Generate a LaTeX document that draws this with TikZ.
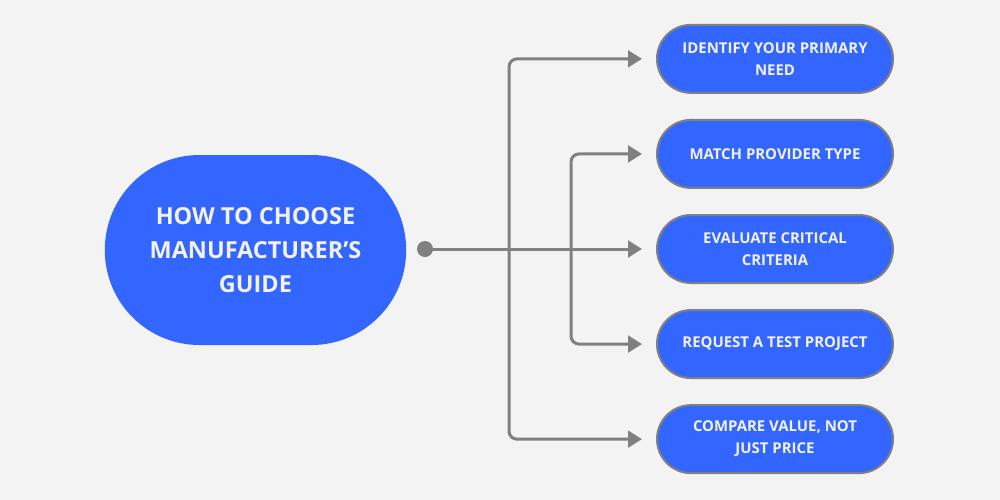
\documentclass[tikz,border=0pt]{standalone}
\usepackage{fontspec}
\setmainfont{Open Sans}
\usetikzlibrary{arrows.meta,positioning}
\definecolor{hubblue}{HTML}{3366FF}
\definecolor{linegray}{HTML}{808080}
\definecolor{bggray}{HTML}{F3F3F3}
\definecolor{txtwhite}{HTML}{F2F2F2}

\begin{document}
\begin{tikzpicture}[
  x=0.75pt, y=-0.75pt,
  node distance=18.8pt,
  box/.style={draw=linegray, line width=1.5pt, fill=hubblue, rounded corners=25.5pt, align=center, font=\fontsize{11.2}{16.5}\selectfont\bfseries, text=txtwhite, minimum width=177pt, minimum height=51pt, inner sep=0pt},
  hub/.style={fill=hubblue, rounded corners=71pt, align=center, font=\fontsize{17.6}{25.5}\selectfont\bfseries, text=txtwhite, minimum width=226pt, minimum height=142.5pt},
  arr/.style={-{Triangle[length=10.5pt, width=12.5pt]}, line width=2.25pt, draw=linegray, shorten >=10.5pt, rounded corners=6pt}
]
\fill[bggray] (0,0) rectangle (1000,500);
\node[hub] (guide) at (255.5,250) {HOW TO CHOOSE\\MANUFACTURER’S\\GUIDE};
\node[box] (n3) at (775,249) {EVALUATE CRITICAL\\CRITERIA};
\node[box, above=of n3] (n2) {MATCH PROVIDER TYPE};
\node[box, above=of n2] (n1) {IDENTIFY YOUR PRIMARY\\NEED};
\node[box, below=of n3] (n4) {REQUEST A TEST PROJECT};
\node[box, below=of n4] (n5) {COMPARE VALUE, NOT\\JUST PRICE};
\coordinate (dot) at (425,249);
\coordinate (outer) at (509,249);
\coordinate (inner) at (571,249);
\draw[arr] (dot) -- (n3.west);
\draw[arr] (outer) |- (n1.west);
\draw[arr] (inner) |- (n2.west);
\draw[arr] (inner) |- (n4.west);
\draw[arr] (outer) |- (n5.west);
\fill[linegray] (dot) circle[radius=6pt];
\end{tikzpicture}
\end{document}
